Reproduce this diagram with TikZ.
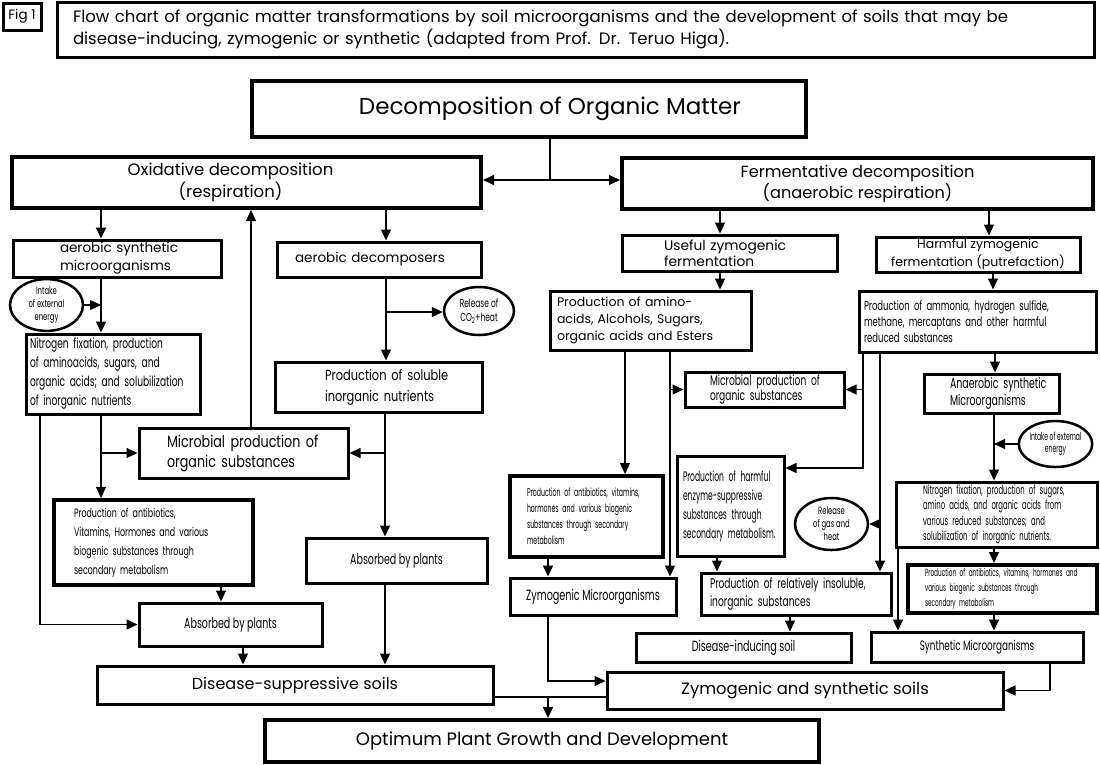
\documentclass[tikz,border=0pt]{standalone}
\usepackage{fontspec}
\setmainfont{Poppins}
\newfontfamily\cfa[FakeStretch=0.65]{Poppins}
\newfontfamily\cfb[FakeStretch=0.55]{Poppins}
\newfontfamily\cfc[FakeStretch=0.78]{Poppins}
\usetikzlibrary{arrows.meta,shapes.geometric}
\newcommand\fsz[2]{\fontsize{#1}{#2}\selectfont}
\begin{document}
\begin{tikzpicture}[x=1pt,y=-1pt,
  bx/.style={draw, rectangle, inner sep=0pt, align=center, line width=3pt},
  bxt/.style={draw, rectangle, inner sep=0pt, align=center, line width=4pt},
  ell/.style={draw, ellipse, inner sep=0pt, align=center, line width=2.5pt},
  ar/.style={line width=1.1pt, -{Triangle[length=11pt,width=10pt]}},
  ln/.style={line width=1.1pt},
  lft/.style={align=left},
]
\useasboundingbox (0,0) rectangle (1100,764);

% ---------- top ----------
\node[bx, minimum width=38pt, minimum height=27pt, font=\fsz{13.5}{14}] (fig) at (22,16.5) {Fig 1};
\node[bx, lft, minimum width=1037pt, minimum height=55pt, text width=1005pt, inner xsep=16pt, font=\fsz{16.5}{22}] (title) at (575.5,29.5)
 {\mbox{Flow chart of organic matter transformations by soil microorganisms and the development of soils that may be}\\
  \mbox{disease-inducing, zymogenic or synthetic (adapted from Prof. Dr. Teruo Higa).}};
\node[bxt, minimum width=554pt, minimum height=56pt, font=\fsz{23}{27}] (decomp) at (529,109) {\hspace*{42pt}Decomposition of Organic Matter};
\node[bxt, minimum width=469pt, minimum height=51pt, font=\fsz{16.5}{22}] (oxid) at (246.5,182.5) {Oxidative decomposition\hspace*{32pt}\\(respiration)\hspace*{32pt}};
\node[bxt, minimum width=471pt, minimum height=51pt, font=\fsz{16.2}{22}] (ferm) at (857.5,183.5) {\raisebox{-3pt}{Fermentative decomposition}\\\raisebox{-2pt}{(anaerobic respiration)}};

% ---------- left branch ----------
\node[bx, lft, minimum width=208pt, minimum height=37pt, text width=114pt, inner xsep=47pt, font=\fsz{13.5}{18}] (aerosyn) at (117,258.5) {\mbox{aerobic synthetic}\\\mbox{microorganisms}};
\node[bx, lft, minimum width=204pt, minimum height=35pt, text width=168pt, inner xsep=18pt, font=\fsz{13.5}{15}] (aerodec) at (379,259.5) {\mbox{aerobic decomposers}};
\node[ell, minimum width=73pt, minimum height=46pt, font=\cfa\fsz{10.5}{13}] (intakeL) at (46.5,305) {Intake\\of external\\energy};
\node[bx, lft, minimum width=174pt, minimum height=80pt, text width=166pt, inner xsep=4pt, font=\cfa\fsz{14}{19}] (nitro) at (113,374)
 {\mbox{Nitrogen fixation, production}\\\mbox{of aminoacids, sugars, and}\\\mbox{organic acids; and solubilization}\\\mbox{of inorganic nutrients}};
\node[ell, minimum width=70pt, minimum height=48pt, font=\cfa\fsz{11.5}{14}] (releaseL) at (479,311) {Release of\\CO\textsubscript{2}+heat};
\node[bx, lft, minimum width=207pt, minimum height=50pt, text width=107pt, inner xsep=50pt, font=\cfc\fsz{14.6}{21}] (soluble) at (378.5,387) {\mbox{Production of soluble}\\\mbox{inorganic nutrients}};
\node[bx, lft, minimum width=209pt, minimum height=50pt, text width=153pt, inner xsep=28pt, font=\cfc\fsz{16.3}{20}] (microL) at (243.5,453) {\mbox{Microbial production of}\\\mbox{organic substances}};
\node[bxt, lft, minimum width=199pt, minimum height=85pt, text width=159pt, inner xsep=20pt, font=\cfa\fsz{12.2}{19}] (antibL) at (153.5,542.5)
 {\mbox{Production of antibiotics,}\\\mbox{Vitamins, Hormones and various}\\\mbox{biogenic substances through}\\\mbox{secondary metabolism}};
\node[bx, minimum width=183pt, minimum height=43pt, font=\cfa\fsz{14.6}{16}] (absL) at (230.5,624.5) {Absorbed by plants};
\node[bx, minimum width=181pt, minimum height=45pt, font=\cfa\fsz{14.6}{16}] (absM) at (396.5,560.5) {Absorbed by plants};
\node[bx, minimum width=396pt, minimum height=38pt, font=\fsz{16}{18}] (DS) at (295,685) {Disease-suppressive soils};
\node[bxt, minimum width=554pt, minimum height=42pt, font=\fsz{18}{21}] (optimum) at (542,741) {Optimum Plant Growth and Development};

% ---------- right branch ----------
\node[bx, lft, minimum width=215pt, minimum height=36pt, text width=131pt, inner xsep=42pt, font=\fsz{13.8}{16}] (useful) at (729.5,253) {\mbox{Useful zymogenic}\\\mbox{fermentation}};
\node[bx, minimum width=204pt, minimum height=35pt, font=\fsz{12.5}{18}] (harmful) at (978,254.5) {Harmful zymogenic\\fermentation (putrefaction)};
\node[bx, lft, minimum width=201pt, minimum height=59pt, text width=187pt, inner xsep=7pt, font=\fsz{12.5}{17}] (amino) at (650.5,320.5)
 {\mbox{Production of amino-}\\\mbox{acids, Alcohols, Sugars,}\\\mbox{organic acids and Esters}};
\node[bx, lft, minimum width=237pt, minimum height=61pt, text width=227pt, inner xsep=5pt, font=\cfa\fsz{13}{16}] (ammonia) at (977.5,321.5)
 {\mbox{Production of ammonia, hydrogen sulfide,}\\\mbox{methane, mercaptans and other harmful}\\\mbox{reduced substances}};
\node[bx, lft, minimum width=159pt, minimum height=35pt, text width=109pt, inner xsep=25pt, font=\cfa\fsz{14}{15}] (microR) at (764.5,389.5) {\mbox{Microbial production of}\\\mbox{organic substances}};
\node[bx, lft, minimum width=135pt, minimum height=39pt, text width=83pt, inner xsep=26pt, font=\cfa\fsz{14.5}{17}] (anaerobic) at (991.5,393.5) {\mbox{Anaerobic synthetic}\\\mbox{Microorganisms}};
\node[ell, minimum width=72pt, minimum height=46pt, font=\cfb\fsz{11}{12}] (intakeR) at (1055.5,444) {Intake of external\\energy};
\node[bxt, lft, minimum width=153pt, minimum height=81pt, text width=119pt, inner xsep=17pt, font=\cfb\fsz{11.3}{16}] (antibM) at (586.5,516.5)
 {\mbox{Production of antibiotics, vitamins,}\\\mbox{hormones and various biogenic}\\\mbox{substances through secondary}\\\mbox{metabolism}};
\node[bx, lft, minimum width=107pt, minimum height=100pt, text width=95pt, inner xsep=6pt, font=\cfb\fsz{13.8}{19}] (enzyme) at (730.5,506)
 {\mbox{Production of harmful}\\\mbox{enzyme-suppressive}\\\mbox{substances through}\\\mbox{secondary metabolism.}};
\node[ell, minimum width=73pt, minimum height=52pt, font=\cfa\fsz{10.5}{13}] (releaseR) at (831.5,524) {Release\\of gas and\\heat};
\node[bx, lft, minimum width=201pt, minimum height=65pt, text width=147pt, inner xsep=27pt, font=\cfb\fsz{12.5}{15.5}] (nitro2) at (996.5,514.5)
 {\mbox{Nitrogen fixation, production of sugars,}\\\mbox{amino acids, and organic acids from}\\\mbox{various reduced substances; and}\\\mbox{solubilization of inorganic nutrients.}};
\node[bxt, lft, minimum width=189pt, minimum height=48pt, text width=155pt, inner xsep=17pt, font=\cfb\fsz{10.5}{15}] (antibR) at (1002.5,589)
 {\mbox{Production of antibiotics, vitamins, hormones and}\\\mbox{various biogenic substances through}\\\mbox{secondary metabolism}};
\node[bx, minimum width=166pt, minimum height=37pt, font=\cfa\fsz{14.8}{16}] (zymMicro) at (593,596.5) {Zymogenic Microorganisms};
\node[bx, lft, minimum width=190pt, minimum height=42pt, text width=172pt, inner xsep=9pt, font=\cfa\fsz{14}{18}] (insoluble) at (796,594)
 {\mbox{Production of relatively insoluble,}\\\mbox{inorganic substances}};
\node[bx, minimum width=215pt, minimum height=29pt, font=\cfa\fsz{14.8}{16}] (diseaseInd) at (743.5,647.5) {Disease-inducing soil};
\node[bx, minimum width=212pt, minimum height=30pt, font=\cfa\fsz{13.6}{16}] (synMicro) at (977,647) {Synthetic Microorganisms};
\node[bx, minimum width=396pt, minimum height=37pt, font=\fsz{16.4}{18}] (ZS) at (805,690.5) {Zymogenic and synthetic soils};

% ---------- connectors: top ----------
\coordinate (jn) at (550,180);
\draw[ln] (decomp.south -| jn) -- (jn);
\draw[ar] (jn) -- (oxid.east |- jn);
\draw[ar] (jn) -- (ferm.west |- jn);

% ---------- connectors: left ----------
\draw[ar, line width=2pt] (oxid.south -| 101,0) -- (aerosyn.north -| 101,0);
\draw[ar] (oxid.south -| 386,0) -- (aerodec.north -| 386,0);
\draw[ar] (microL.north -| 251,0) -- (oxid.south -| 251,0);
\draw[ar] (aerosyn.south -| 101,0) -- (nitro.north -| 101,0);
\draw[ar] (intakeL.east) -- (intakeL.east -| 101,0);
\draw[ar] (nitro.south -| 101,0) -- (antibL.north -| 101,0);
\draw[ar] (microL.west -| 101,0) -- (microL.west);
\coordinate (c40) at (40,624.5);
\draw[ar] (nitro.south -| c40) -- (c40) -- (absL.west);
\draw[ar] (aerodec.south -| 386,0) -- (soluble.north -| 386,0);
\coordinate (b312) at (386,312);
\draw[ar] (b312) -- (releaseL.west |- b312);
\draw[ar] (soluble.south -| 385,0) -- (absM.north -| 385,0);
\draw[ar] (microL.east -| 385,0) -- (microL.east);
\draw[ar] (antibL.south -| 221,0) -- (absL.north -| 221,0);
\draw[ar] (absL.south -| 243,0) -- (DS.north -| 243,0);
\draw[ar] (absM.south -| 385,0) -- (DS.north -| 385,0);
\coordinate (m697) at (548,697);
\draw[ln] (DS.east |- m697) -- (ZS.west |- m697);
\draw[ar] (m697) -- (optimum.north -| m697);

% ---------- connectors: right ----------
\draw[ar] (ferm.south -| 720,0) -- (useful.north -| 720,0);
\draw[ar] (ferm.south -| 989,0) -- (harmful.north -| 989,0);
\draw[ar] (useful.south -| 720,0) -- (amino.north -| 720,0);
\draw[ar] (harmful.south -| 993,0) -- (ammonia.north -| 993,0);
\draw[ar] (amino.south -| 625,0) -- (antibM.north -| 625,0);
\draw[ar] (amino.south -| 670,0) -- (zymMicro.north -| 670,0);
\draw[ar] (microR.west -| 670,0) -- (microR.west);
\coordinate (c863) at (863,468);
\draw[ar] (ammonia.south -| c863) -- (c863) -- (enzyme.east |- c863);
\draw[ar] (microR.east -| 863,0) -- (microR.east);
\draw[ar, line width=2pt] (ammonia.south -| 880,0) -- (insoluble.north -| 880,0);
\draw[ar] (releaseR.east -| 880,0) -- (releaseR.east);
\draw[ar] (ammonia.south -| 995,0) -- (anaerobic.north -| 995,0);
\draw[ar] (anaerobic.south -| 994,0) -- (nitro2.north -| 994,0);
\draw[ar] (intakeR.west) -- (intakeR.west -| 994,0);
\draw[ar] (nitro2.south -| 898,0) -- (synMicro.north -| 898,0);
\draw[ar] (nitro2.south -| 994,0) -- (antibR.north -| 994,0);
\draw[ar] (antibR.south -| 994,0) -- (synMicro.north -| 994,0);
\draw[ar] (antibM.south -| 548,0) -- (zymMicro.north -| 548,0);
\coordinate (c548) at (548,681);
\draw[ar] (zymMicro.south -| c548) -- (c548) -- (ZS.west |- c548);
\draw[ar] (enzyme.south -| 717,0) -- (insoluble.north -| 717,0);
\draw[ar] (insoluble.south -| 790,0) -- (diseaseInd.north -| 790,0);
\coordinate (c1050) at (1050,690.5);
\draw[ar] (synMicro.south -| c1050) -- (c1050) -- (ZS.east);
\end{tikzpicture}
\end{document}
